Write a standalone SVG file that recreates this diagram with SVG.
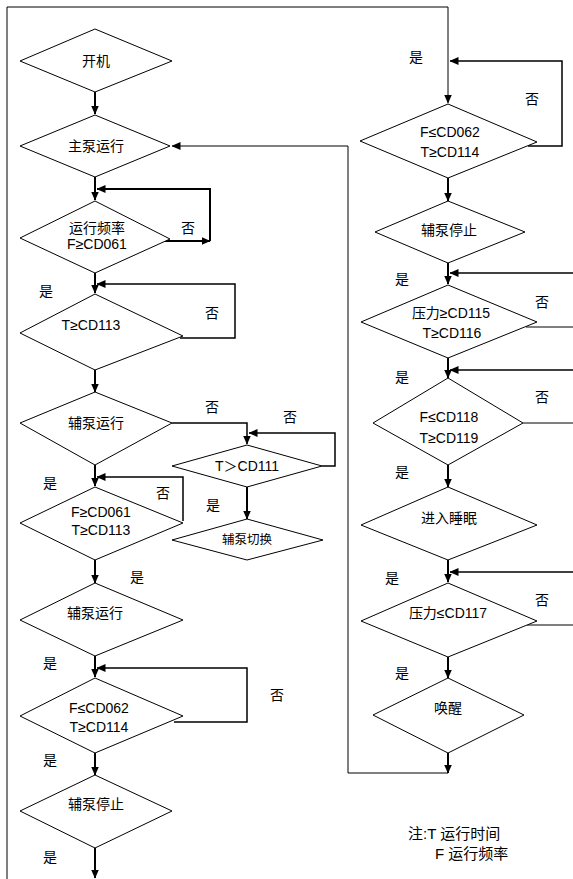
<svg xmlns="http://www.w3.org/2000/svg" width="573" height="879" viewBox="0 0 573 879">
<defs>
<marker id="ah" markerUnits="userSpaceOnUse" markerWidth="9" markerHeight="8" refX="8.5" refY="4" orient="auto">
<path d="M0,0 L9,4 L0,8 z" fill="#000"/>
</marker>
<style>
.d{fill:#fff;stroke:#000;stroke-width:1}
.t{font-family:"Liberation Sans","Noto Sans CJK SC",sans-serif;font-size:14px;fill:#000;text-anchor:middle;dominant-baseline:central}
.l{font-family:"Liberation Sans","Noto Sans CJK SC",sans-serif;font-size:15px;fill:#000;dominant-baseline:central}
.m{fill:none;stroke:#000;stroke-width:2;marker-end:url(#ah)}
.fa{fill:none;stroke:#000;stroke-width:1.5;marker-end:url(#ah)}
.o{fill:none;stroke:#000;stroke-width:1}
.oa{fill:none;stroke:#000;stroke-width:1;marker-end:url(#ah)}
</style>
</defs>
<rect width="573" height="879" fill="#fff"/>

<g id="connectors">
<path class="oa" d="M7,879 V7 H448 V103"/>
<path class="oa" d="M448,773 H348 V146 H172"/>
<path class="m" d="M95,92 V114"/>
<path class="m" d="M95,177 V200"/>
<path class="m" d="M95,273 V293"/>
<path class="m" d="M95,370 V392"/>
<path class="m" d="M95,465 V486"/>
<path class="m" d="M95,560 V583"/>
<path class="m" d="M95,656 V677"/>
<path class="m" d="M95,753 V775"/>
<path class="m" d="M95,848 V878"/>
<path class="m" d="M160,241 H210"/>
<path class="m" d="M210,241 V189 H97"/>
<path class="fa" d="M180,338 H235 V284 H97"/>
<path class="fa" d="M172,423 H247 V444"/>
<path class="fa" d="M322,466 H335 V433 H249"/>
<path class="m" d="M247,487 V519"/>
<path class="fa" d="M183,521 V477 H97"/>
<path class="fa" d="M174,722 H247 V668 H97"/>
<path class="m" d="M448,178 V201"/>
<path class="m" d="M448,263 V284"/>
<path class="m" d="M448,358 V378"/>
<path class="m" d="M448,465 V487"/>
<path class="m" d="M448,560 V582"/>
<path class="m" d="M448,657 V678"/>
<path class="m" d="M448,753 V773"/>
<path class="fa" d="M528,146 H562 V61 H450"/>
<path class="fa" d="M573,273 H450"/>
<path class="o" d="M526,327 H573"/>
<path class="fa" d="M573,370 H450"/>
<path class="o" d="M523,423 H573"/>
<path class="fa" d="M573,572 H450"/>
<path class="o" d="M527,625 H573"/>
</g>

<g id="n-kaiji"><polygon class="d" points="20,61 95,29 172,61 95,92"/><text class="t" x="96" y="61">开机</text></g>
<g id="n-zhubeng"><polygon class="d" points="20,146 95,115 170,146 95,177"/><text class="t" x="96" y="146">主泵运行</text></g>
<g id="n-freq"><polygon class="d" points="20,238 95,201 170,239 95,273"/><text class="t" x="97" y="228">运行频率</text><text class="t" x="97" y="244">F≥CD061</text></g>
<g id="n-t113"><polygon class="d" points="20,333 95,294 183,336 95,370"/><text class="t" x="91" y="325">T≥CD113</text></g>
<g id="n-fuyun1"><polygon class="d" points="20,423 95,392 172,423 95,465"/><text class="t" x="96" y="423">辅泵运行</text></g>
<g id="n-t111"><polygon class="d" points="172,466 247,445 322,466 247,487"/><text class="t" x="247" y="466">T＞CD111</text></g>
<g id="n-qiehuan"><polygon class="d" points="172,540 247,519 323,540 247,560"/><text class="t" x="247" y="540" style="font-size:12.5px">辅泵切换</text></g>
<g id="n-f061"><polygon class="d" points="20,523 95,487 183,523 95,560"/><text class="t" x="101" y="512">F≥CD061</text><text class="t" x="101" y="530">T≥CD113</text></g>
<g id="n-fuyun2"><polygon class="d" points="20,620 95,583 183,620 95,656"/><text class="t" x="95" y="613">辅泵运行</text></g>
<g id="n-f062"><polygon class="d" points="20,716 95,678 183,716 95,753"/><text class="t" x="99" y="708">F≤CD062</text><text class="t" x="99" y="727">T≥CD114</text></g>
<g id="n-fustop"><polygon class="d" points="20,811 95,775 172,811 95,848"/><text class="t" x="96" y="804">辅泵停止</text></g>

<g id="n-rf062"><polygon class="d" points="360,141 448,104 537,142 448,178"/><text class="t" x="450" y="132">F≤CD062</text><text class="t" x="450" y="152">T≥CD114</text></g>
<g id="n-rfustop"><polygon class="d" points="375,232 448,201 525,232 448,263"/><text class="t" x="449" y="230">辅泵停止</text></g>
<g id="n-p115"><polygon class="d" points="361,322 448,285 537,322 448,358"/><text class="t" x="451" y="313">压力≥CD115</text><text class="t" x="452" y="333">T≥CD116</text></g>
<g id="n-f118"><polygon class="d" points="373,423 448,378 523,423 448,465"/><text class="t" x="449" y="417">F≤CD118</text><text class="t" x="449" y="438">T≥CD119</text></g>
<g id="n-sleep"><polygon class="d" points="361,525 448,487 537,525 448,560"/><text class="t" x="449" y="518">进入睡眠</text></g>
<g id="n-p117"><polygon class="d" points="361,621 448,583 537,621 448,657"/><text class="t" x="448" y="613">压力≤CD117</text></g>
<g id="n-wake"><polygon class="d" points="373,715 448,678 524,715 448,753"/><text class="t" x="448" y="708">唤醒</text></g>

<g id="labels">
<text class="t" x="188" y="228">否</text>
<text class="t" x="46" y="291">是</text>
<text class="t" x="212" y="313">否</text>
<text class="t" x="212" y="407">否</text>
<text class="t" x="290" y="417">否</text>
<text class="t" x="213" y="505">是</text>
<text class="t" x="50" y="483">是</text>
<text class="t" x="163" y="493">否</text>
<text class="t" x="137" y="577">是</text>
<text class="t" x="50" y="663">是</text>
<text class="t" x="277" y="695">否</text>
<text class="t" x="50" y="760">是</text>
<text class="t" x="50" y="857">是</text>
<text class="t" x="416" y="57">是</text>
<text class="t" x="532" y="99">否</text>
<text class="t" x="402" y="279">是</text>
<text class="t" x="542" y="302">否</text>
<text class="t" x="402" y="377">是</text>
<text class="t" x="542" y="397">否</text>
<text class="t" x="402" y="472">是</text>
<text class="t" x="392" y="578">是</text>
<text class="t" x="542" y="600">否</text>
<text class="t" x="402" y="673">是</text>
<text class="l" x="408" y="833">注:T 运行时间</text>
<text class="l" x="435" y="853">F 运行频率</text>
</g>
</svg>
